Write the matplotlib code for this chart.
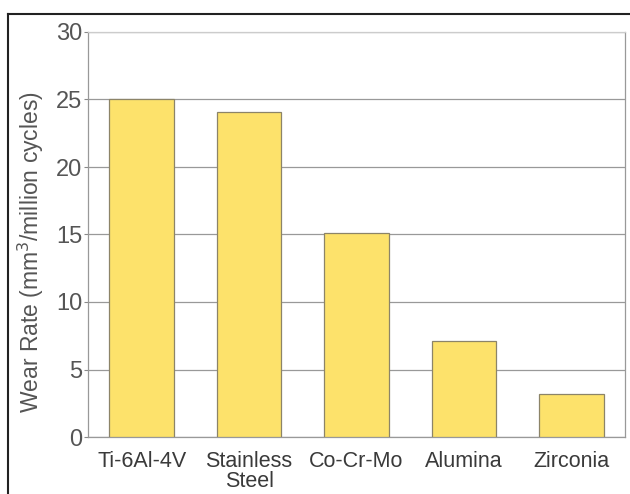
import matplotlib
matplotlib.use("Agg")
import matplotlib.pyplot as plt
from matplotlib.lines import Line2D

categories = ["Ti-6Al-4V", "Stainless\nSteel", "Co-Cr-Mo", "Alumina", "Zirconia"]
wear_rate = [25.0, 24.1, 15.1, 7.1, 3.2]
y_ticks = [0, 5, 10, 15, 20, 25, 30]

plt.rcParams['font.family'] = ['Liberation Sans', 'DejaVu Sans']

W, H = 630, 494
fig = plt.figure(figsize=(W / 100, H / 100), dpi=100)
ax = fig.add_axes([88 / W, 1 - 437 / H, (625 - 88) / W, (437 - 32) / H])

x = list(range(len(categories)))
ax.bar(x, wear_rate, width=0.6, color="#FDE26B", edgecolor="#8C8468", linewidth=0.9, zorder=3)

ax.set_xlim(-0.5, len(categories) - 0.5)
ax.set_ylim(0, 30)
ax.set_yticks(y_ticks)
ax.set_xticks(x)
ax.set_xticklabels(categories, fontsize=15.5, color="#3a3a3a", linespacing=0.95)
ax.tick_params(axis="x", length=0, pad=10)
ax.tick_params(axis="y", length=3, width=0.8, color="#888888", labelsize=17, labelcolor="#555555", pad=1)
ax.yaxis.grid(True, color="#999999", linewidth=0.9, zorder=0)
for s in ["left", "right", "top", "bottom"]:
    ax.spines[s].set_color("#999999")
    ax.spines[s].set_linewidth(0.9)
ax.spines["top"].set_color("#cccccc")
ax.set_ylabel("Wear Rate (mm$^3$/million cycles)", fontsize=16.5, color="#555555")
ax.yaxis.set_label_coords(46 / W, 0.5 - 5 / H, transform=fig.transFigure)

# outer frame (top and left edges)
fig.add_artist(Line2D([8 / W, 8 / W], [0, 1 - 14 / H], transform=fig.transFigure, color="#222222", linewidth=1.5))
fig.add_artist(Line2D([8 / W, 1], [1 - 14 / H, 1 - 14 / H], transform=fig.transFigure, color="#222222", linewidth=1.5))

fig.savefig("out.png", dpi=100)
